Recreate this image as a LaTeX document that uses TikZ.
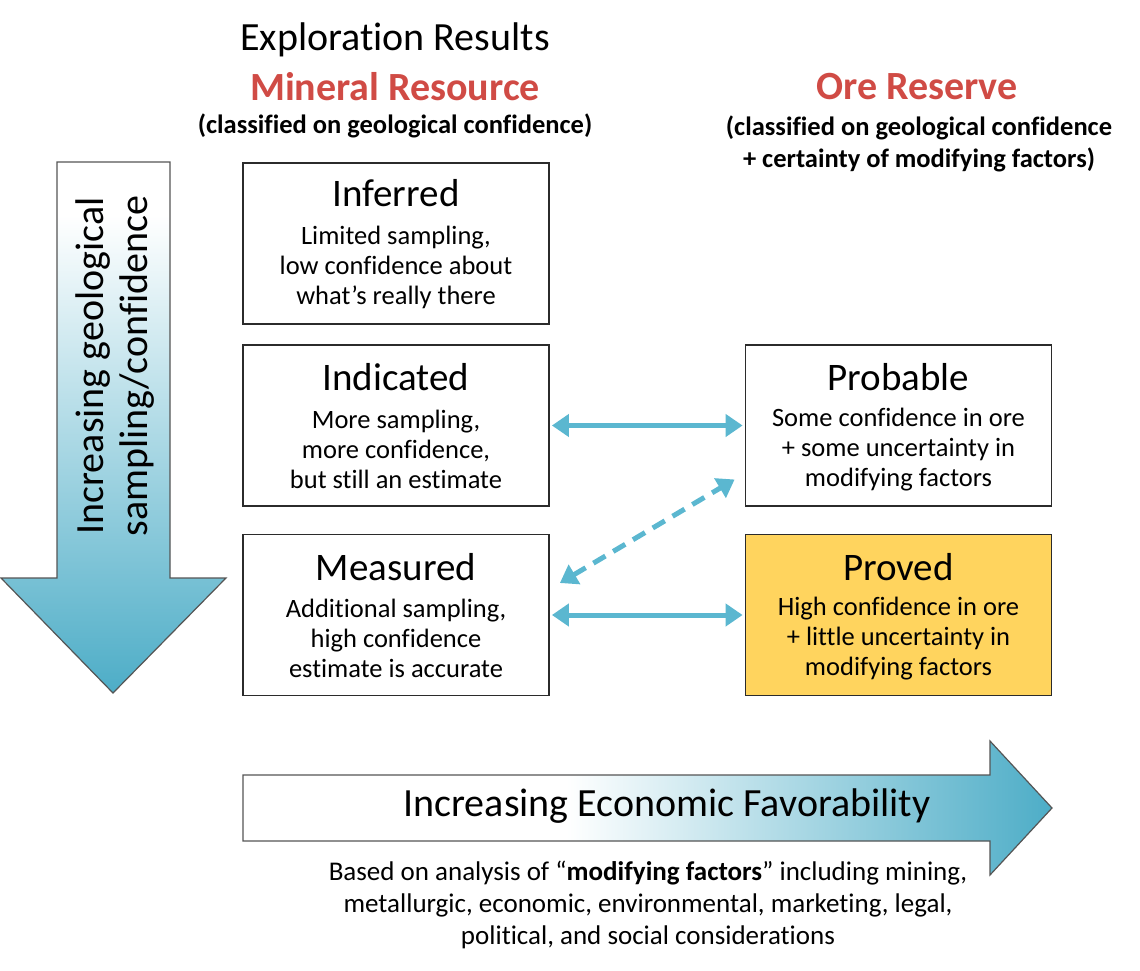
\documentclass[tikz,border=0pt]{standalone}
\usepackage{fontspec}
\setmainfont{Carlito}[Ligatures={NoCommon}]
\usetikzlibrary{arrows.meta,calc}
\definecolor{conn}{HTML}{5BB7D0}
\definecolor{arrblue}{HTML}{4DADC7}
\definecolor{redtxt}{HTML}{D04B45}
\definecolor{gold}{HTML}{FFD45E}
\definecolor{edge}{HTML}{2B2B2B}
\pgfdeclarehorizontalshading{econ}{100bp}{color(0bp)=(white); color(45bp)=(white); color(75bp)=(arrblue); color(100bp)=(arrblue)}
\pgfdeclareverticalshading{geo}{100bp}{color(0bp)=(arrblue); color(25bp)=(arrblue); color(70bp)=(white); color(100bp)=(white)}
\begin{document}
\begin{tikzpicture}[x=1pt,y=-1pt,
  box/.style={draw=edge, line width=1.8pt, minimum width=306pt, minimum height=161pt, inner sep=0pt},
  ttl/.style={font=\fontsize{39}{44}\selectfont, inner sep=0pt},
  body/.style={font=\fontsize{26.5}{30}\selectfont, align=center, inner sep=0pt},
  head/.style={font=\fontsize{40}{44}\selectfont, inner sep=0pt},
  redhead/.style={font=\fontsize{40}{44}\selectfont\bfseries, text=redtxt, inner sep=0pt},
  sub/.style={font=\fontsize{26.5}{32}\selectfont\bfseries, align=center, inner sep=0pt},
  link/.style={draw=conn, line width=5pt, {Triangle[length=17pt,width=22pt]}-{Triangle[length=17pt,width=22pt]}, shorten <=2pt, shorten >=2pt},
  bigarrow/.style={draw=edge!80, line width=1.2pt}
]
\useasboundingbox (0,0) rectangle (1140,971);

% headers
\node[head] (expl) at (395,40) {Exploration Results};
\node[redhead] (minres) at (395,87) {Mineral Resource};
\node[sub] (minsub) at (395,126) {(classified on geological confidence)};
\node[redhead] (orres) at (917,87) {Ore Reserve};
\node[sub] (orsub) at (919,144) {(classified on geological confidence\\+ certainty of modifying factors)};

% boxes
\node[box] (inf) at (396,243.5) {};
\node[box] (ind) at (396,425.5) {};
\node[box] (meas) at (396,615) {};
\node[box] (prob) at (898.5,425.5) {};
\node[box, fill=gold] (prov) at (898.5,615) {};

\node[ttl] (inf-t) at ($(inf.north)+(0,31)$) {Inferred};
\node[body] (inf-b) at ($(inf.north)+(0,105)$) {Limited sampling,\\low confidence about\\what’s really there};
\node[ttl] (ind-t) at ($(ind.north)+(0,33)$) {Indicated};
\node[body] (ind-b) at ($(ind.north)+(0,105)$) {More sampling,\\more confidence,\\but still an estimate};
\node[ttl] (meas-t) at ($(meas.north)+(0,33)$) {Measured};
\node[body] (meas-b) at ($(meas.north)+(0,105)$) {Additional sampling,\\high confidence\\estimate is accurate};
\node[ttl] (prob-t) at ($(prob.north)+(0,33)$) {Probable};
\node[body] (prob-b) at ($(prob.north)+(0,105)$) {Some confidence in ore\\+ some uncertainty in\\modifying factors};
\node[ttl] (prov-t) at ($(prov.north)+(0,33)$) {Proved};
\node[body] (prov-b) at ($(prov.north)+(0,105)$) {High confidence in ore\\+ little uncertainty in\\modifying factors};

% connectors
\draw[link] (ind.east) -- (prob.west);
\draw[link] (meas.east) -- (prov.west);
\coordinate (dA) at ($(meas.east)+(10,-32)$);
\coordinate (dB) at ($(prob.west)+(-10,54)$);
\draw[link, dash pattern=on 14pt off 9pt, shorten <=0pt, shorten >=0pt] (dA) -- (dB);

% vertical arrow
\path[bigarrow, shading=geo] (57,162) -- (170,162) -- (170,578) -- (226,578) -- (113,693) -- (1,578) -- (57,578) -- cycle;
\node[font=\fontsize{40}{44}\selectfont, align=center, rotate=90, inner sep=0pt] (vtxt) at (115,366) {Increasing geological\\sampling/confidence};

% horizontal arrow
\path[bigarrow, shading=econ] (243,775) -- (990,775) -- (990,741) -- (1052,808) -- (990,875) -- (990,841) -- (243,841) -- cycle;
\node[font=\fontsize{40}{44}\selectfont, inner sep=0pt] (htxt) at (667,806) {Increasing Economic Favorability};

% footnote
\node[font=\fontsize{27}{32}\selectfont, align=center, inner sep=0pt] (foot) at (648,905) {Based on analysis of “\textbf{modifying factors}” including mining,\\metallurgic, economic, environmental, marketing, legal,\\political, and social considerations};
\end{tikzpicture}
\end{document}
